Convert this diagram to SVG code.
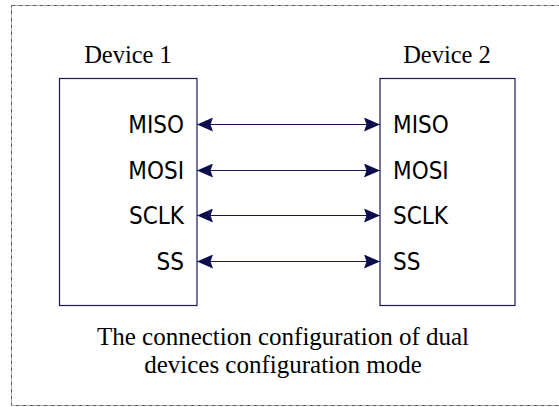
<svg xmlns="http://www.w3.org/2000/svg" width="559" height="407" viewBox="0 0 559 407">
<style>
.frame{fill:none;stroke:#5a5a5a;stroke-width:1;stroke-dasharray:4 1 1 1}
.box{fill:#fff;stroke:#1a1a5a;stroke-width:1.2}
.title{font-family:"Liberation Serif",serif;font-size:24.5px;fill:#000}
.cap{font-family:"Liberation Serif",serif;font-size:25px;fill:#000}
.sig{font-family:"DejaVu Sans Condensed","DejaVu Sans",sans-serif;font-stretch:condensed;font-size:24px;fill:#000}
.wire{stroke:#14145a;stroke-width:1.2;fill:none;marker-start:url(#ah);marker-end:url(#ah)}
</style>
<defs>
<marker id="ah" markerUnits="userSpaceOnUse" viewBox="0 -7 16 14" refX="16" refY="0" markerWidth="16" markerHeight="14" orient="auto-start-reverse">
<path d="M0,-7 L16,0 L0,7 L2.5,0 Z" fill="#0d0d4d"/>
</marker>
</defs>
<rect class="frame" x="11.5" y="5.5" width="560" height="400"/>
<g id="device1">
<rect class="box" x="59.5" y="78.5" width="137.5" height="227"/>
<text class="title" x="128" y="63" text-anchor="middle">Device 1</text>
<text class="sig" x="184" y="133" text-anchor="end">MISO</text>
<text class="sig" x="184" y="179" text-anchor="end">MOSI</text>
<text class="sig" x="184" y="224" text-anchor="end">SCLK</text>
<text class="sig" x="184" y="270" text-anchor="end">SS</text>
</g>
<g id="device2">
<rect class="box" x="380" y="78.5" width="135" height="227"/>
<text class="title" x="447" y="63" text-anchor="middle">Device 2</text>
<text class="sig" x="393" y="133">MISO</text>
<text class="sig" x="393" y="179">MOSI</text>
<text class="sig" x="393" y="224">SCLK</text>
<text class="sig" x="393" y="270">SS</text>
</g>
<g id="connectors">
<line class="wire" x1="197" y1="124.5" x2="380" y2="124.5"/>
<line class="wire" x1="197" y1="170.5" x2="380" y2="170.5"/>
<line class="wire" x1="197" y1="215.5" x2="380" y2="215.5"/>
<line class="wire" x1="197" y1="261.5" x2="380" y2="261.5"/>
</g>
<g id="caption">
<text class="cap" x="283" y="345" text-anchor="middle">The connection configuration of dual</text>
<text class="cap" x="283" y="373" text-anchor="middle">devices configuration mode</text>
</g>
</svg>
